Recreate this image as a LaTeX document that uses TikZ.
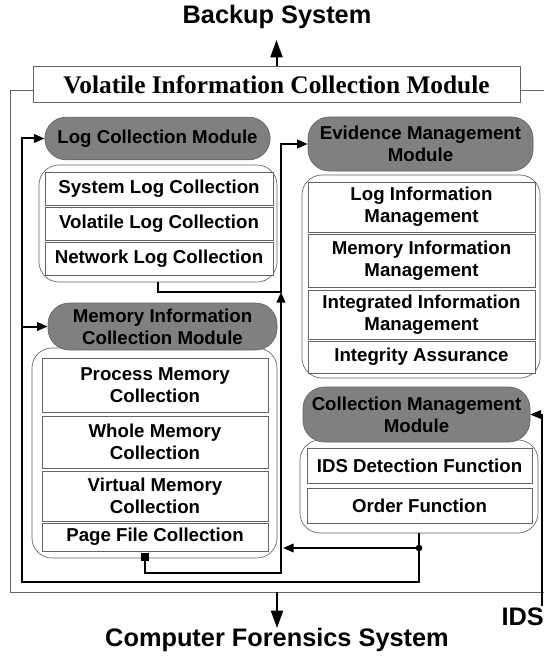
\documentclass[tikz,border=0pt]{standalone}
\usepackage{fontspec}
\setmainfont{Liberation Serif}
\setsansfont{Liberation Sans}
\usetikzlibrary{arrows.meta}
\definecolor{pill}{RGB}{128,128,128}
\definecolor{edge}{RGB}{100,100,100}

\begin{document}
\begin{tikzpicture}[x=0.75pt, y=-0.75pt,
  title/.style={draw=edge, line width=0.5pt, fill=white, minimum width=365pt,
                minimum height=27.5pt, font=\rmfamily\bfseries\fontsize{19}{22}\selectfont},
  sys/.style={font=\sffamily\bfseries\fontsize{19}{22}\selectfont, inner sep=0pt},
  module/.style={draw=edge, line width=0.5pt, fill=pill, rounded corners=16pt,
                 align=center, inner sep=1pt,
                 font=\sffamily\bfseries\fontsize{14}{16.5}\selectfont},
  group/.style={draw=edge, line width=0.5pt, rounded corners=15pt},
  item/.style={draw=edge, line width=0.5pt, fill=white, align=center, inner sep=1pt,
               font=\sffamily\bfseries\fontsize{14}{16.5}\selectfont},
  sq/.style={fill=black, minimum size=6pt, inner sep=0pt},
  frame/.style={draw=edge, line width=0.5pt},
  conn/.style={line width=1.5pt},
  arr/.style={-{Triangle[length=8pt, width=6.5pt]}},
  big/.style={line width=1.5pt, -{Triangle[length=13pt, width=9pt]}}
]
\useasboundingbox (0,0) rectangle (544,656);

%% Outer frame and title
\draw[frame] (544,90) -| (10,592) -- (544,592);
\node[title] (vicm) at (276.5, 84.5) {Volatile Information Collection Module};
\node[sys] (backup)    at (277, 17)  {Backup System};
\node[sys] (forensics) at (277, 640) {Computer Forensics System};
\node[sys, anchor=east] (ids) at (544, 617) {IDS};

%% Log collection
\node[group, minimum width=178.5pt, minimum height=87.75pt] (g_log) at (158, 223.5) {};
\node[item, minimum width=171pt, minimum height=24.75pt] (i_syslog) at (159, 188.5) {System Log Collection};
\node[item, minimum width=171pt, minimum height=24.75pt] (i_vollog) at (159, 223.5) {Volatile Log Collection};
\node[item, minimum width=171pt, minimum height=24.75pt] (i_netlog) at (159, 258.5) {Network Log Collection};
\node[module, minimum width=169pt, minimum height=32pt] (m_log) at (157.5, 138.5) {Log Collection Module};

%% Memory information collection
\node[group, minimum width=183.75pt, minimum height=157.5pt] (g_mem) at (154.5, 453) {};
\node[item, minimum width=169.5pt, minimum height=40.5pt] (i_proc)  at (155, 385) {Process Memory\\Collection};
\node[item, minimum width=169.5pt, minimum height=39pt]   (i_whole) at (155, 442) {Whole Memory\\Collection};
\node[item, minimum width=169.5pt, minimum height=37.5pt] (i_virt)  at (155, 496) {Virtual Memory\\Collection};
\node[item, minimum width=169.5pt, minimum height=21pt]   (i_page)  at (155, 537) {Page File Collection};
\node[module, minimum width=171.75pt, minimum height=35.25pt] (m_mem) at (162.5, 326.5) {Memory Information\\Collection Module};

%% Evidence management
\node[group, minimum width=178.5pt, minimum height=152.25pt] (g_evi) at (421, 276.5) {};
\node[item, minimum width=170.25pt, minimum height=37.5pt]  (i_loginfo) at (421.5, 207)   {Log Information\\Management};
\node[item, minimum width=170.25pt, minimum height=39.75pt] (i_meminfo) at (421.5, 260.5) {Memory Information\\Management};
\node[item, minimum width=170.25pt, minimum height=36.75pt] (i_integ)   at (421.5, 314.5) {Integrated Information\\Management};
\node[item, minimum width=170.25pt, minimum height=24pt]    (i_assure)  at (421.5, 357)   {Integrity Assurance};
\node[module, minimum width=168.75pt, minimum height=40.5pt] (m_evi) at (420.5, 144) {Evidence Management\\Module};

%% Collection management
\node[group, minimum width=178.5pt, minimum height=69.75pt] (g_col) at (419, 486.5) {};
\node[item, minimum width=168.75pt, minimum height=26.25pt] (i_ids)   at (419.5, 465.5) {IDS Detection Function};
\node[item, minimum width=168.75pt, minimum height=26.25pt] (i_order) at (419.5, 505.5) {Order Function};
\node[module, minimum width=170.25pt, minimum height=41.25pt] (m_col) at (416.5, 414.5) {Collection Management\\Module};

%% Connector points
\coordinate (bus_bl)     at (22, 582);
\coordinate (tap)        at (419, 548);
\coordinate (rise_b)     at (281, 573);
\coordinate (merge)      at (281, 292);
\coordinate (ids_in)     at (542, 606);
\coordinate (backup_in)  at (276.5, 40);
\coordinate (frame_out)  at (277, 592);
\coordinate (forens_in)  at (277, 628);
\node[sq] (page_sq) at (145, 557) {};

%% Connectors
\draw[big] (vicm.north) -- (backup_in);
\draw[big] (frame_out) -- (forens_in);
\draw[conn, arr] (g_col.south) |- (bus_bl) |- (m_log.west);
\draw[conn, arr] (bus_bl |- m_mem.west) -- (m_mem.west);
\draw[conn, arr, shorten >=1.5pt] (tap) -- (tap -| merge);
\fill (tap) circle (2.5pt);
\draw[conn, arr] (page_sq) |- (rise_b) -- (merge);
\draw[conn, arr] (g_log.south) |- (merge) |- (m_evi.west);
\draw[line width=0.8pt, arr] (ids_in) |- (m_col.east);

\end{tikzpicture}
\end{document}
